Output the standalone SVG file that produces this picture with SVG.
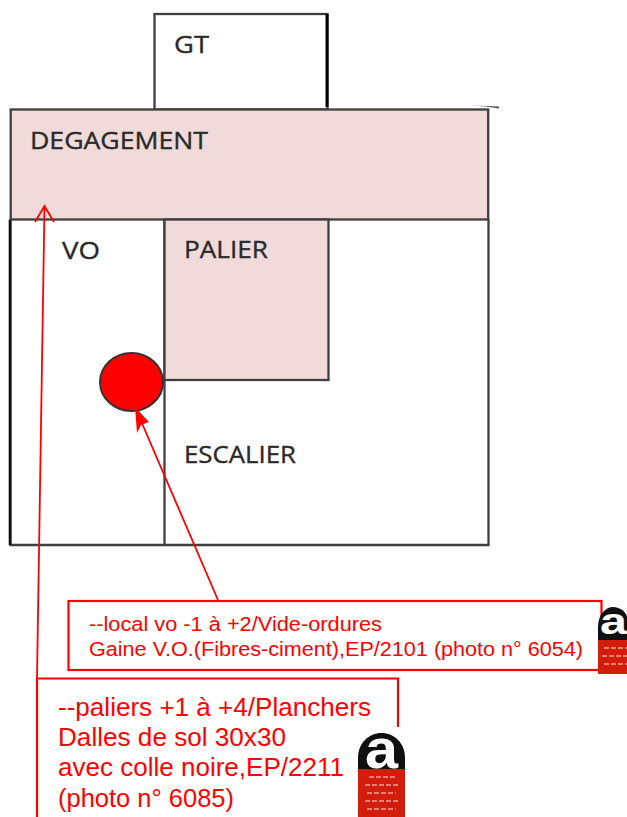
<svg xmlns="http://www.w3.org/2000/svg" width="627" height="817" viewBox="0 0 627 817">
<style>
.w{stroke:#3f3f3f;stroke-width:2.300;fill:none}
.p{fill:#f0dbda}
.t{font-family:"Open Sans","Noto Sans",sans-serif;font-size:24px;fill:#2a2a2a;stroke:#2a2a2a;stroke-width:.35}
.r{font-family:"Liberation Sans",Arial,sans-serif;fill:#ff0000}
.l{stroke:#ff0000;stroke-width:1.800;fill:none}
.b{stroke:#ff0000;stroke-width:2.200;fill:#fff}
.h{fill:#101010}.m{fill:#d21d0c}.a{font-family:"Liberation Sans",Arial,sans-serif;font-weight:700;fill:#fff}
.s{stroke:#f0a090;stroke-width:1.500;stroke-dasharray:5 2;fill:none}
</style>
<rect width="627" height="817" fill="#fff"/>
<g id="gt">
<rect class="w" x="154.500" y="14" width="173" height="95.500"/>
<path d="M327 14V107" stroke="#000" stroke-width="3" fill="none"/>
<text class="t" x="174" y="53" textLength="35" lengthAdjust="spacingAndGlyphs">GT</text>
</g>
<g id="plan">
<path class="w" d="M10.500 219.500V545H488.500V219.500"/>
<path d="M10 219.500V545" stroke="#111" stroke-width="2.600" fill="none"/>
<path d="M473 105.500L499 106.500V108.500L485 106.500Z" fill="#555"/>
</g>
<g id="degagement">
<rect class="w p" x="10.700" y="109.500" width="477.500" height="110"/>
<text class="t" x="30" y="149" textLength="178" lengthAdjust="spacingAndGlyphs">DEGAGEMENT</text>
</g>
<g id="vo">
<path class="w" d="M164.500 219.500V545"/>
<text class="t" x="62" y="259" textLength="38" lengthAdjust="spacingAndGlyphs">VO</text>
</g>
<g id="palier">
<rect class="w p" x="164.500" y="219.500" width="164" height="160.500"/>
<text class="t" x="184" y="258" textLength="84" lengthAdjust="spacingAndGlyphs">PALIER</text>
</g>
<g id="escalier">
<text class="t" x="184" y="463" textLength="112" lengthAdjust="spacingAndGlyphs">ESCALIER</text>
</g>
<g id="vide-ordures">
<ellipse cx="131.500" cy="382" rx="31.500" ry="29" fill="#ff0000" stroke="#333" stroke-width="2"/>
</g>
<g id="connectors">
<path class="l" d="M218 600L138 414"/>
<path d="M135 407L149 422L141 425L137 433Z" fill="#ff0000"/>
<path class="l" d="M37 678L44.500 206M35 222L44.500 206L54 222"/>
</g>
<g id="note-vo">
<rect class="b" x="68.500" y="601" width="533" height="69"/>
<text class="r" font-size="20.500" x="89" y="631" textLength="293" lengthAdjust="spacingAndGlyphs">--local vo -1 à +2/Vide-ordures</text>
<text class="r" font-size="20.500" x="89" y="656" textLength="494" lengthAdjust="spacingAndGlyphs">Gaine V.O.(Fibres-ciment),EP/2101 (photo n° 6054)</text>
</g>
<g id="badge-vo">
<path class="h" d="M598 641V627C598 614 606 607 613 607C620 607 627 612 627 618V641Z"/>
<text class="a" font-size="37" x="600" y="634" textLength="27" lengthAdjust="spacingAndGlyphs">a</text>
<rect class="m" x="598" y="640" width="29" height="34"/>
<path class="s" d="M604 648H627M602 656H627M604 664H627"/>
</g>
<g id="note-paliers">
<path class="b" d="M37 817V678.500H398V727" fill="none"/>
<text class="r" font-size="25.500" x="58" y="716" textLength="313" lengthAdjust="spacingAndGlyphs">--paliers +1 à +4/Planchers</text>
<text class="r" font-size="25.500" x="58" y="746" textLength="228" lengthAdjust="spacingAndGlyphs">Dalles de sol 30x30</text>
<text class="r" font-size="25.500" x="58" y="776" textLength="286" lengthAdjust="spacingAndGlyphs">avec colle noire,EP/2211</text>
<text class="r" font-size="25.500" x="58" y="807" textLength="176" lengthAdjust="spacingAndGlyphs">(photo n° 6085)</text>
</g>
<g id="badge-paliers">
<path class="h" d="M358 770V758C358 743 369 733 381.500 733C394 733 405 743 405 758V770Z"/>
<text class="a" font-size="56" x="365" y="768" textLength="33" lengthAdjust="spacingAndGlyphs">a</text>
<rect class="m" x="358" y="769" width="47" height="48"/>
<path class="s" d="M369 777H395M365 785H398M367 793H396M365 801H398M367 809H396"/>
</g>
</svg>
